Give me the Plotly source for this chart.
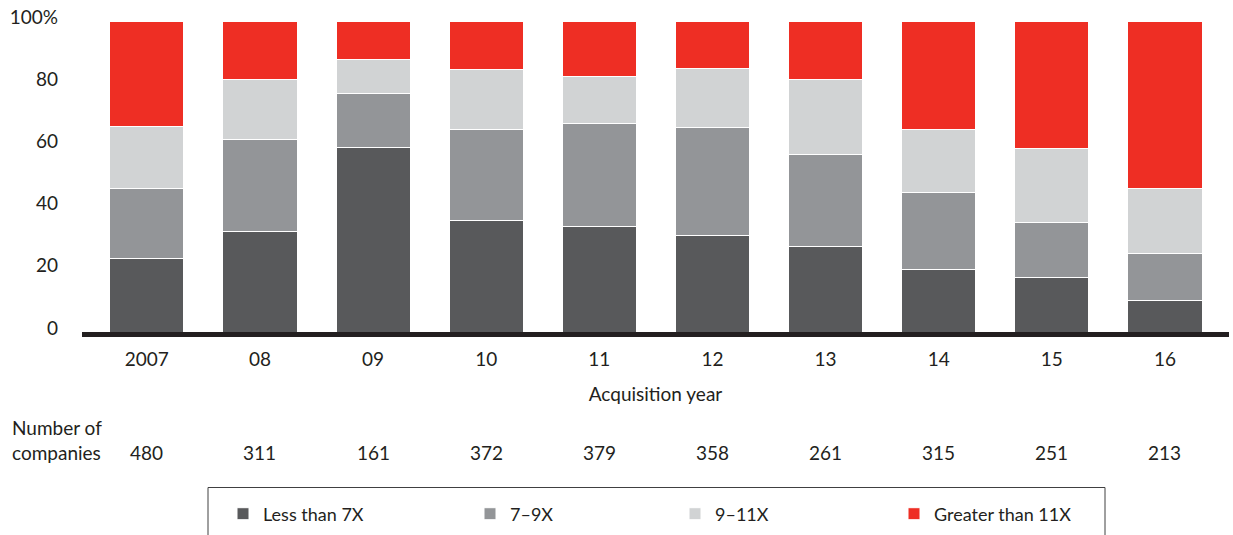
import plotly.graph_objects as go

years = ["2007", "08", "09", "10", "11", "12", "13", "14", "15", "16"]
n_companies = [480, 311, 161, 372, 379, 358, 261, 315, 251, 213]

less_7x = [23.5, 32.3, 59.3, 35.7, 33.8, 31.1, 27.4, 20.0, 17.4, 10.2]
x7_9 = [22.5, 29.5, 17.5, 29.4, 33.2, 34.6, 29.8, 25.0, 17.7, 15.1]
x9_11 = [20.1, 19.4, 10.8, 19.3, 15.0, 18.9, 23.9, 20.2, 24.0, 20.8]
gt_11x = [33.9, 18.8, 12.4, 15.6, 18.0, 15.4, 18.9, 34.8, 40.9, 53.9]

series = [
    ("Less than 7X", less_7x, "#58595b"),
    ("7–9X", x7_9, "#939598"),
    ("9–11X", x9_11, "#d1d3d4"),
    ("Greater than 11X", gt_11x, "#ee2e24"),
]

y_ticks = [0, 20, 40, 60, 80, 100]
y_ticktext = ["0", "20", "40", "60", "80", "100%"]

FONT = "Lato"
TXT = "#231f20"
FS = 19

W, H = 1233, 535
ML, MR, MT, MB = 82, 4, 21, 203
pw = W - ML - MR
ph = H - MT - MB


def py(pix):
    return (H - MB - pix) / ph


def px(pix):
    return (pix - ML) / pw


legend_ids = ["legend", "legend2", "legend3", "legend4"]
legend_left_px = [223, 470, 675, 894]

fig = go.Figure()
for (name, vals, col), lid in zip(series, legend_ids):
    fig.add_trace(go.Bar(
        x=years, y=vals, name=name, legend=lid, showlegend=True,
        marker=dict(color=col, line=dict(color="white", width=1)),
    ))

annotations = [
    dict(text="Number of<br>companies", xref="paper", yref="paper",
         x=px(10), y=py(440), xanchor="left", yanchor="middle", align="left",
         showarrow=False, font=dict(size=FS, color=TXT, family=FONT)),
]
for i, n in enumerate(n_companies):
    annotations.append(dict(text=str(n), x=i, xref="x", yref="paper",
                            y=py(452), xanchor="center", yanchor="middle",
                            showarrow=False,
                            font=dict(size=FS, color=TXT, family=FONT)))

legend_layouts = {}
for lid, lx in zip(legend_ids, legend_left_px):
    legend_layouts[lid] = dict(
        orientation="h", x=px(lx), xanchor="left", y=py(514),
        yanchor="middle", yref="paper",
        font=dict(size=18, color=TXT, family=FONT),
        bgcolor="rgba(0,0,0,0)")

fig.update_layout(
    width=W, height=H, showlegend=True,
    margin=dict(l=ML, r=MR, t=MT, b=MB, autoexpand=False),
    barmode="stack", bargap=0.345,
    plot_bgcolor="white", paper_bgcolor="white",
    font=dict(family=FONT, size=FS, color=TXT),
    xaxis=dict(type="category", range=[-0.573, 9.566], showline=True,
               linecolor=TXT, linewidth=5, showgrid=False, ticks="",
               ticklabelstandoff=6, tickfont=dict(size=FS),
               title=dict(text="Acquisition year", standoff=20,
                          font=dict(size=FS))),
    yaxis=dict(range=[0, 100], tickvals=y_ticks, ticktext=y_ticktext,
               showgrid=False, zeroline=False, showline=False, ticks="",
               ticklabelstandoff=23, ticklabelshift=-4, tickfont=dict(size=FS)),
    annotations=annotations,
    shapes=[dict(type="rect", xref="paper", yref="paper",
                 x0=px(208), x1=px(1105), y0=py(545), y1=py(487.5),
                 line=dict(color="#404041", width=1), fillcolor="rgba(0,0,0,0)")],
    **legend_layouts,
)

fig.write_html("out.html",
               config={"displayModeBar": False},
               post_script="document.body.style.margin='0';"
                           "document.body.style.overflow='hidden';")
